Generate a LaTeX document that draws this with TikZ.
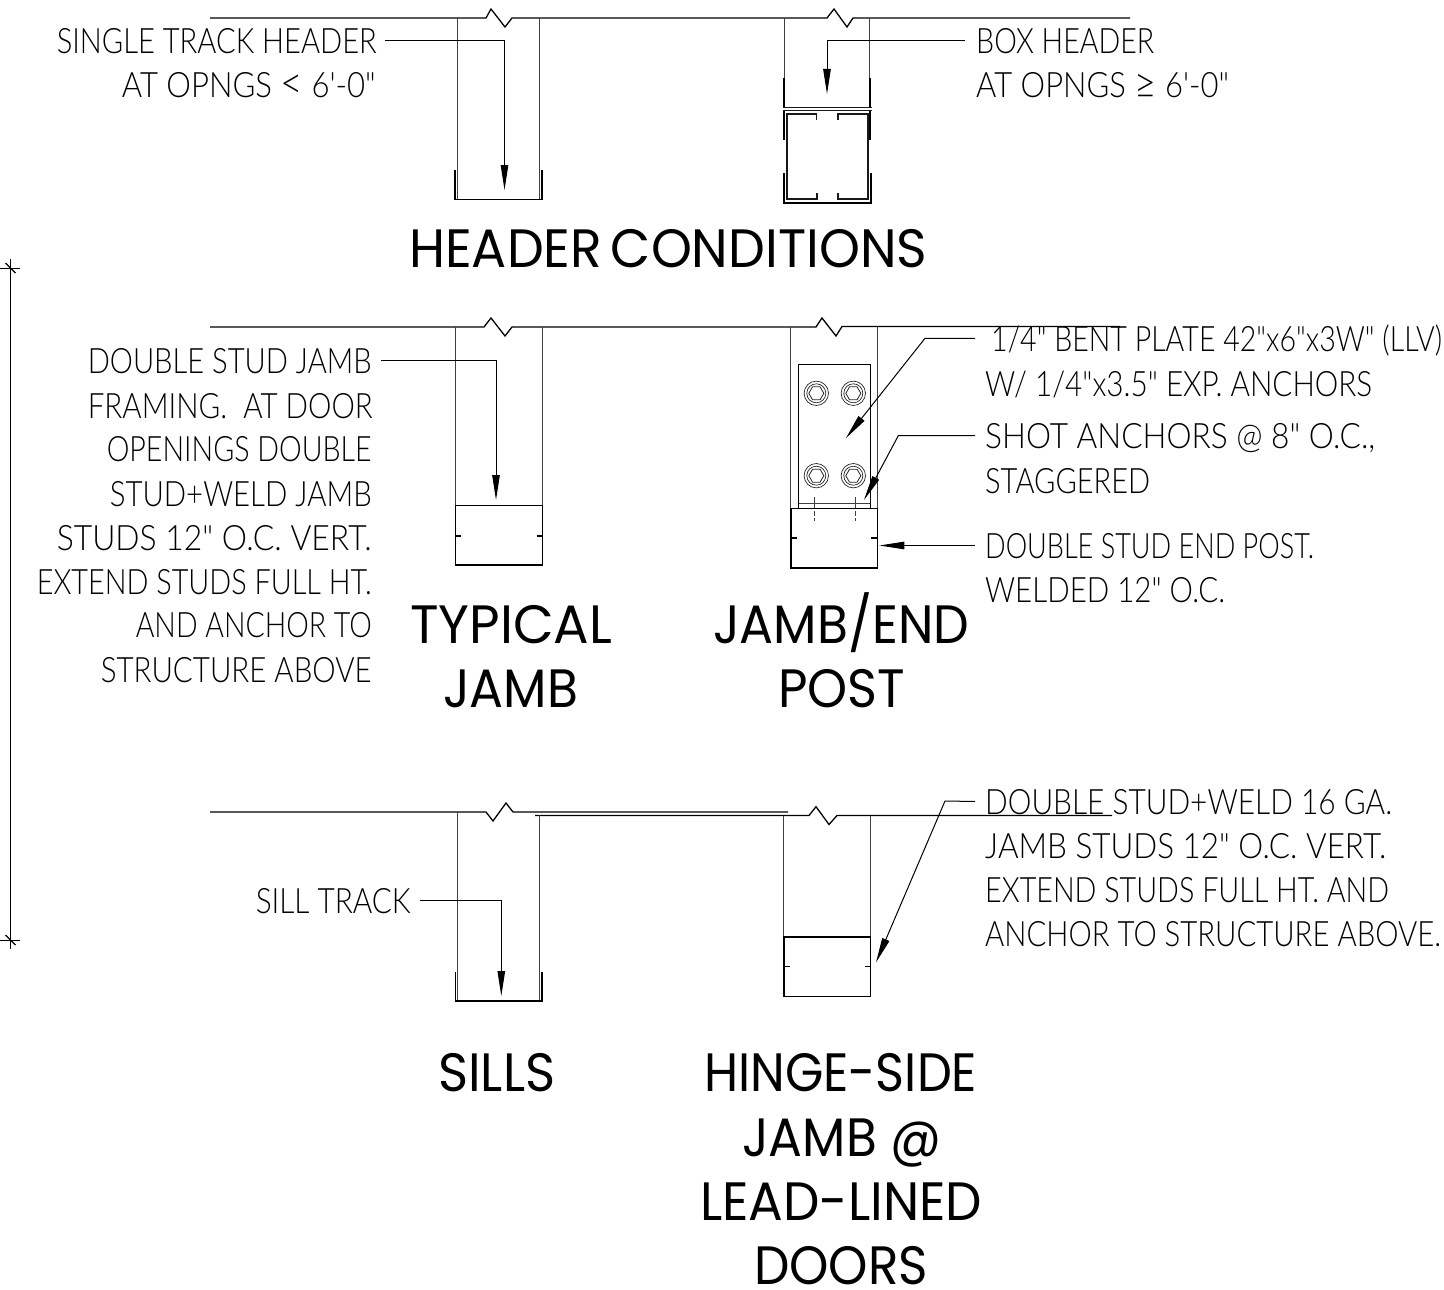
\documentclass[tikz,border=0pt]{standalone}
\usepackage{fontspec}
\usepackage{graphicx}
\usetikzlibrary{arrows.meta}
\setmainfont{Lato}
\newfontfamily\cadfont{Lato}[UprightFont=* Light]
\newfontfamily\headfont{Poppins}
\newcommand\wfit[2]{\resizebox{#1pt}{\height}{#2}}
\newcommand\bigsym[1]{\smash{\raisebox{-1pt}{\scalebox{1.25}{#1}}}}
\tikzset{
  thin line/.style={line width=0.9pt,draw=black!75},
  beam/.style={line width=1.3pt,draw=black},
  heavy/.style={line width=1.9pt,draw=black},
  medium/.style={line width=1.3pt,draw=black!90},
  boxline/.style={line width=1.8pt,draw=black},
  leader/.style={line width=1pt,draw=black,-{Triangle[length=25pt,width=7.5pt]}},
  note/.style={inner sep=0pt,font=\cadfont\fontsize{35}{35}\selectfont,text height=25pt,text depth=0pt},
  title/.style={inner sep=0pt,font=\headfont\fontsize{54}{54}\selectfont,text height=38pt,text depth=0pt},
}
\begin{document}
\begin{tikzpicture}[x=1pt,y=-1pt]
\useasboundingbox (0,0) rectangle (1444,1290);
% ---------- beams
\draw[beam] (210,18) -- (486,18) -- (491,9) -- (505,27) -- (512,18) -- (552,18);
\draw[beam] (552,18) -- (827,18) -- (834,9) -- (847,27) -- (853,18) -- (1130,18);
\draw[beam] (210,327) -- (484,327) -- (491,318) -- (505,336) -- (512,327) -- (540,327);
\draw[beam] (540,327) -- (816,327) -- (822,318) -- (836,336) -- (842,326.5) -- (1120,326.5);
\draw[beam] (210,812) -- (486,812) -- (493,821) -- (506,803) -- (513,812) -- (788,812);
\draw[beam] (535,815.5) -- (809,815.5) -- (816,806.7) -- (829,824.5) -- (837,815.5) -- (1112,815.5);
% ---------- single track header
\draw[thin line] (457,18) -- (457,199) (539.5,18) -- (539.5,199);
\draw[heavy] (455,170) -- (455,199.5) -- (542,199.5) -- (542,170);
% ---------- box header
\draw[thin line] (784.5,18) -- (784.5,80) (869.5,18) -- (869.5,80);
\draw[heavy] (784,78) -- (784,107) (870,78) -- (870,107);
\draw[medium] (783,107.5) -- (872,107.5) (783,110.5) -- (872,110.5);
\draw[heavy] (784,111) -- (784,140) (870,111) -- (870,140);
\draw[heavy] (784,173) -- (784,203) -- (871,203) -- (871,173);
\draw[medium] (816.5,120) -- (816.5,114) -- (787,114) -- (787,199) -- (817,199) -- (817,193);
\draw[medium] (838,120) -- (838,114) -- (868,114) -- (868,199) -- (838,199) -- (838,193);
% ---------- typical jamb
\draw[thin line] (455.5,327) -- (455.5,505) (542,327) -- (542,505);
\draw[boxline] (455.5,505.5) rectangle (542.5,565);
\draw[boxline] (455.5,536) -- (461,536) (536.5,536) -- (542.5,536);
% ---------- jamb / end post
\draw[thin line] (790.7,327) -- (790.7,508) (877.3,327) -- (877.3,508);
\draw[thin line,draw=black] (798.7,508) -- (798.7,364.5) -- (870.3,364.5) -- (870.3,508);
\draw[thin line] (798.7,503.3) -- (870.3,503.3);
\foreach \bx/\by in {816.3/393.3,853.3/393.3,816.3/475.7,853.3/475.7}{
  \draw[line width=.7pt,draw=black!85] (\bx,\by) circle[radius=12.2pt] (\bx,\by) circle[radius=9.5pt];
  \draw[line width=.8pt,draw=black!85] (\bx-7.5,\by) -- (\bx-3.75,\by-6.5) -- (\bx+3.75,\by-6.5) -- (\bx+7.5,\by) -- (\bx+3.75,\by+6.5) -- (\bx-3.75,\by+6.5) -- cycle;
}
\draw[thin line,dash pattern=on 12pt off 2pt on 5pt off 2pt] (814,497) -- (814,521) (855,497) -- (855,521);
\draw[boxline] (791,508.5) rectangle (877.5,568);
\draw[boxline] (791,538) -- (797,538) (871,538) -- (877.5,538);
% ---------- sills
\draw[thin line] (457,812) -- (457,1000) (539.3,815) -- (539.3,1000);
\draw[heavy] (455.5,972) -- (455.5,1001) -- (541.7,1001) -- (541.7,972);
% ---------- hinge-side jamb
\draw[thin line] (783.5,815.5) -- (783.5,937) (870.3,815.5) -- (870.3,937);
\draw[boxline] (784,937) rectangle (870.5,996.5);
\draw[boxline] (784,966.5) -- (790,966.5) (865,966.5) -- (871,966.5);
% ---------- overall dimension
\draw[line width=.9pt] (10.5,259) -- (10.5,949);
\draw[line width=.9pt] (0,268) -- (20,268) (0,940) -- (20,940);
\draw[line width=1.1pt] (5.5,263) -- (15.5,273) (5.5,935) -- (15.5,945);
% ---------- titles
\node[title,anchor=base west] (tHeader) at (409,267) {\wfit{518}{HEADER\hspace{-.1em} CONDITIONS}};
\node[title,anchor=base west] (tTypA) at (410,643) {\wfit{202}{TYPICAL}};
\node[title,anchor=base west] (tTypB) at (443,707) {\wfit{135}{JAMB}};
\node[title,anchor=base west] (tEndA) at (713,643) {\wfit{256}{JAMB/END}};
\node[title,anchor=base west] (tEndB) at (778,707) {\wfit{127}{POST}};
\node[title,anchor=base west] (tSill) at (438,1091) {\wfit{117}{SILLS}};
\node[title,anchor=base west] (tHngA) at (704,1091) {\wfit{273}{HINGE-SIDE}};
\node[title,anchor=base west] (tHngB) at (742,1156) {\wfit{199}{JAMB @}};
\node[title,anchor=base west] (tHngC) at (700,1220) {\wfit{282}{LEAD-LINED}};
\node[title,anchor=base west] (tHngD) at (754,1284) {\wfit{174}{DOORS}};
% ---------- notes
\node[note,anchor=base east] (nSingleA) at (377,53) {\wfit{320}{SINGLE TRACK HEADER}};
\node[note,anchor=base east] (nSingleB) at (376,97) {\wfit{254}{AT OPNGS \bigsym{<} 6'-0"}};
\node[note,anchor=base west] (nBoxA) at (976,53) {\wfit{178}{BOX HEADER}};
\node[note,anchor=base west] (nBoxB) at (976,97) {\wfit{253}{AT OPNGS \bigsym{≥} 6'-0"}};
\node[note,anchor=base east] (nJambA) at (372,373) {\wfit{284}{DOUBLE STUD JAMB}};
\node[note,anchor=base east] (nJambB) at (373,418) {\wfit{285}{FRAMING.\ \ AT DOOR}};
\node[note,anchor=base east] (nJambC) at (372,461) {\wfit{265}{OPENINGS DOUBLE}};
\node[note,anchor=base east] (nJambD) at (372,506) {\wfit{262}{STUD+WELD JAMB}};
\node[note,anchor=base east] (nJambE) at (372,550) {\wfit{315}{STUDS 12" O.C. VERT.}};
\node[note,anchor=base east] (nJambF) at (372,594) {\wfit{335}{EXTEND STUDS FULL HT.}};
\node[note,anchor=base east] (nJambG) at (372,637) {\wfit{236}{AND ANCHOR TO}};
\node[note,anchor=base east] (nJambH) at (372,682) {\wfit{271}{STRUCTURE ABOVE}};
\node[note,anchor=base west] (nPlateA) at (991,351) {\wfit{451}{1/4" BENT PLATE 42"x6"x3W" (LLV)}};
\node[note,anchor=base west] (nPlateB) at (985,396) {\wfit{387}{W/ 1/4"x3.5" EXP. ANCHORS}};
\node[note,anchor=base west] (nShotA) at (985,448) {\wfit{390}{SHOT ANCHORS @ 8" O.C.,}};
\node[note,anchor=base west] (nShotB) at (985,493) {\wfit{165}{STAGGERED}};
\node[note,anchor=base west] (nPostA) at (985,558) {\wfit{329}{DOUBLE STUD END POST.}};
\node[note,anchor=base west] (nPostB) at (985,602) {\wfit{240}{WELDED 12" O.C.}};
\node[note,anchor=base east] (nSill) at (411,913) {\wfit{155}{SILL TRACK}};
\node[note,anchor=base west] (nLeadA) at (985,814) {\wfit{407}{DOUBLE STUD+WELD 16 GA.}};
\node[note,anchor=base west] (nLeadB) at (985,858) {\wfit{401}{JAMB STUDS 12" O.C. VERT.}};
\node[note,anchor=base west] (nLeadC) at (985,902) {\wfit{404}{EXTEND STUDS FULL HT. AND}};
\node[note,anchor=base west] (nLeadD) at (985,946) {\wfit{456}{ANCHOR TO STRUCTURE ABOVE.}};
% ---------- leader targets
\coordinate (tipSingle) at (504.5,190);
\coordinate (tipBox) at (827,94);
\coordinate (tipJamb) at (496,500);
\coordinate (tipPlate) at (846,438);
\coordinate (kneePlate) at (925,338.3);
\coordinate (tipShot) at (864,500);
\coordinate (kneeShot) at (898.3,435.7);
\coordinate (tipPost) at (879.3,545.5);
\coordinate (tipSill) at (501.3,996);
\coordinate (tipLead) at (876,962.5);
\coordinate (kneeLead) at (945,801);
% ---------- leaders
\draw[leader] ([xshift=8pt]nSingleA.east) -- (tipSingle |- nSingleA.east) -- (tipSingle);
\draw[leader] ([xshift=-11pt]nBoxA.west) -- (tipBox |- nBoxA.west) -- (tipBox);
\draw[leader] ([xshift=9pt]nJambA.east) -- (tipJamb |- nJambA.east) -- (tipJamb);
\draw[leader] ([xshift=-16pt]nPlateA.west) -- (kneePlate) -- (tipPlate);
\draw[leader] ([xshift=-10pt]nShotA.west) -- (kneeShot) -- (tipShot);
\draw[leader] ([xshift=-10pt]nPostA.west) -- (tipPost);
\draw[leader] ([xshift=9pt]nSill.east) -- (tipSill |- nSill.east) -- (tipSill);
\draw[leader] ([xshift=-10pt]nLeadA.west) -- (kneeLead) -- (tipLead);
\end{tikzpicture}
\end{document}
